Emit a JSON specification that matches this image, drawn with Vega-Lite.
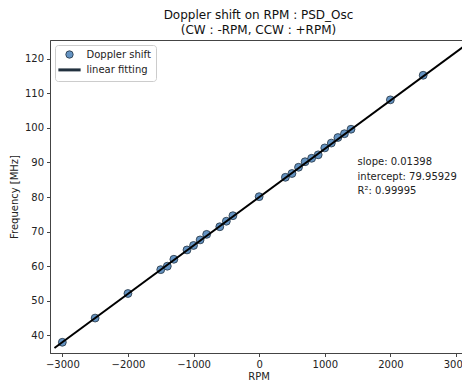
{
  "$schema": "https://vega.github.io/schema/vega-lite/v6.json",
  "autosize": "none",
  "width": 417,
  "height": 313,
  "padding": {"left": 50, "top": 40, "right": 0, "bottom": 28},
  "background": "white",
  "title": {
    "text": ["Doppler shift on RPM : PSD_Osc", "(CW : -RPM, CCW : +RPM)"],
    "fontSize": 12,
    "font": "DejaVu Sans",
    "fontWeight": "normal",
    "color": "#111",
    "anchor": "middle",
    "frame": "group",
    "offset": 3,
    "lineHeight": 15
  },
  "config": {
    "font": "DejaVu Sans",
    "view": {"stroke": "#444", "strokeWidth": 1},
    "axis": {
      "grid": false,
      "domainColor": "#444",
      "tickColor": "#444",
      "tickSize": 3.5,
      "labelFontSize": 10,
      "labelColor": "#222",
      "labelFont": "DejaVu Sans",
      "titleFont": "DejaVu Sans",
      "titleFontSize": 10,
      "titleFontWeight": "normal",
      "titleColor": "#222",
      "labelPadding": 3,
      "labelOverlap": false,
      "format": "d"
    }
  },
  "encoding": {
    "x": {
      "field": "rpm", "type": "quantitative",
      "scale": {"domain": [-3188, 3168], "nice": false, "zero": false},
      "axis": {"values": [-3000, -2000, -1000, 0, 1000, 2000, 3000], "title": "RPM", "titlePadding": 2}
    },
    "y": {
      "field": "freq", "type": "quantitative",
      "scale": {"domain": [34.9, 125.4], "nice": false, "zero": false},
      "axis": {"values": [40, 50, 60, 70, 80, 90, 100, 110, 120], "title": "Frequency [MHz]", "titlePadding": 5}
    }
  },
  "layer": [
    {
      "data": {
        "values": [
          {"rpm": -3000, "freq": 38.0, "series": "Doppler shift"},
          {"rpm": -2500, "freq": 45.0, "series": "Doppler shift"},
          {"rpm": -2000, "freq": 52.1, "series": "Doppler shift"},
          {"rpm": -1500, "freq": 59.0, "series": "Doppler shift"},
          {"rpm": -1400, "freq": 60.0, "series": "Doppler shift"},
          {"rpm": -1300, "freq": 62.0, "series": "Doppler shift"},
          {"rpm": -1100, "freq": 64.7, "series": "Doppler shift"},
          {"rpm": -1000, "freq": 66.0, "series": "Doppler shift"},
          {"rpm": -900, "freq": 67.6, "series": "Doppler shift"},
          {"rpm": -800, "freq": 69.2, "series": "Doppler shift"},
          {"rpm": -600, "freq": 71.4, "series": "Doppler shift"},
          {"rpm": -500, "freq": 73.0, "series": "Doppler shift"},
          {"rpm": -400, "freq": 74.6, "series": "Doppler shift"},
          {"rpm": 0, "freq": 80.1, "series": "Doppler shift"},
          {"rpm": 400, "freq": 85.7, "series": "Doppler shift"},
          {"rpm": 500, "freq": 86.8, "series": "Doppler shift"},
          {"rpm": 600, "freq": 88.6, "series": "Doppler shift"},
          {"rpm": 700, "freq": 90.2, "series": "Doppler shift"},
          {"rpm": 800, "freq": 91.2, "series": "Doppler shift"},
          {"rpm": 900, "freq": 92.2, "series": "Doppler shift"},
          {"rpm": 1000, "freq": 94.2, "series": "Doppler shift"},
          {"rpm": 1100, "freq": 95.6, "series": "Doppler shift"},
          {"rpm": 1200, "freq": 97.2, "series": "Doppler shift"},
          {"rpm": 1300, "freq": 98.3, "series": "Doppler shift"},
          {"rpm": 1400, "freq": 99.6, "series": "Doppler shift"},
          {"rpm": 2000, "freq": 108.1, "series": "Doppler shift"},
          {"rpm": 2500, "freq": 115.2, "series": "Doppler shift"}
        ]
      },
      "mark": {"type": "point", "filled": true, "size": 62, "stroke": "#22313f", "strokeWidth": 0.8, "opacity": 1},
      "encoding": {
        "shape": {
          "field": "series", "type": "nominal",
          "scale": {"domain": ["Doppler shift", "linear fitting"], "range": ["circle", "M-3,0H3"]}
        },
        "fill": {
          "field": "series", "type": "nominal",
          "scale": {"domain": ["Doppler shift", "linear fitting"], "range": ["#6493c2", "#000000"]},
          "legend": {
            "title": null,
            "orient": "top-left",
            "offset": 5,
            "padding": 4.5,
            "strokeColor": "#cccccc",
            "fillColor": "rgba(255,255,255,0.85)",
            "cornerRadius": 3,
            "labelFontSize": 10,
            "labelColor": "#222",
            "labelFont": "DejaVu Sans",
            "symbolSize": 55,
            "symbolOffset": 5,
            "rowPadding": 3.4,
            "labelOffset": 12,
            "symbolStrokeWidth": {"expr": "datum.value === 'linear fitting' ? 3 : 0.8"},
            "symbolStrokeColor": {"expr": "datum.value === 'linear fitting' ? '#000000' : '#22313f'"},
            "encode": {
              "symbols": {
                "update": {
                  "stroke": {"signal": "datum.value === 'linear fitting' ? '#000000' : '#22313f'"},
                  "strokeWidth": {"signal": "datum.value === 'linear fitting' ? 3 : 0.8"}
                }
              }
            }
          }
        }
      }
    },
    {
      "data": {
        "values": [
          {"rpm": -3120, "freq": 36.34},
          {"rpm": 3168, "freq": 124.25}
        ]
      },
      "mark": {"type": "line", "color": "#000000", "strokeWidth": 2},
      "encoding": {}
    },
    {
      "data": {
        "values": [
          {"rpm": 1500, "freq": 90, "label": "slope: 0.01398\nintercept: 79.95929\nR²: 0.99995"}
        ]
      },
      "mark": {"type": "text", "align": "left", "baseline": "middle", "fontSize": 10, "lineBreak": "\n", "lineHeight": 14.3, "color": "#222", "font": "DejaVu Sans"},
      "encoding": {
        "text": {"field": "label"}
      }
    }
  ]
}
